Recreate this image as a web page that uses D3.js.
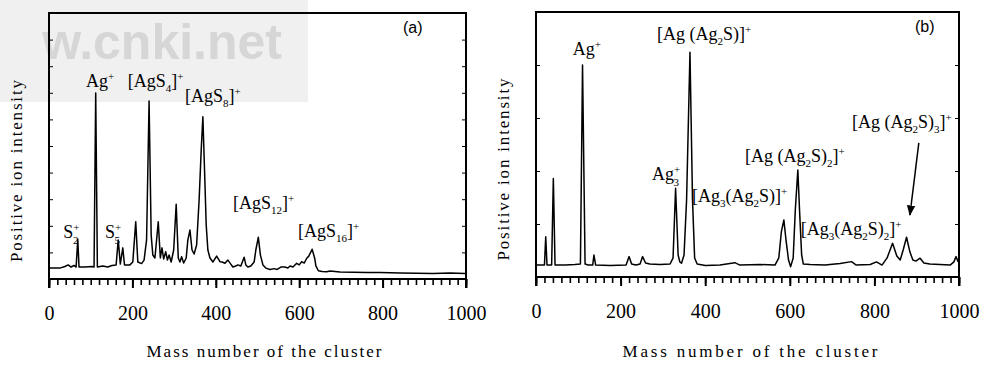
<!DOCTYPE html>
<html>
<head>
<meta charset="utf-8">
<script src="https://cdn.jsdelivr.net/npm/d3@7"></script>
<style>
  body { margin: 0; background: #fff; }
  text { font-family: "Liberation Serif", "Times New Roman", serif; fill: #000; }
</style>
</head>
<body>
<svg id="chart" width="981" height="365"></svg>
<script>
// spectrum (a): mass number vs. relative intensity (%)
const massA = [2, 26, 38, 46, 53, 60, 65, 69, 72, 86, 103, 108, 112, 116, 129, 141, 151, 161, 166, 171,
  177, 181, 194, 201, 208, 213, 222, 228, 234, 240, 245, 249, 254, 262, 267, 271, 275, 280, 284, 288,
  293, 299, 305, 310, 314, 318, 323, 329, 333, 338, 343, 348, 354, 360, 365, 369, 373, 377, 381, 386,
  393, 402, 410, 415, 422, 429, 436, 441, 448, 453, 460, 468, 472, 477, 484, 492, 496, 502, 507, 513,
  520, 530, 540, 547, 556, 566, 573, 578, 585, 594, 600, 606, 612, 618, 623, 631, 637, 640, 646, 655,
  666, 674, 698, 762, 794, 842, 921, 962, 998];
const intA = [4.1, 4.1, 4.7, 5.3, 4.5, 5.1, 4.5, 14.9, 4.5, 4.5, 4.7, 4.5, 69.9, 4.5, 4.9, 4.5, 5.1, 5.3, 14.7, 5.6,
  11.7, 5.3, 5.3, 6.4, 21.5, 6.4, 5.8, 7.1, 14.7, 66.9, 16.5, 9.0, 7.9, 21.5, 7.9, 11.7, 7.5, 10.3, 7.1, 9.0,
  6.4, 10.9, 28.1, 7.9, 6.4, 8.4, 6.0, 7.9, 14.7, 18.4, 10.9, 9.4, 12.8, 29.7, 48.5, 61.0, 41.0, 20.3, 10.9, 7.9,
  6.4, 8.6, 6.5, 6.4, 5.9, 7.1, 5.6, 4.5, 4.9, 5.3, 4.9, 8.2, 5.3, 4.5, 4.9, 6.4, 10.9, 15.7, 9.0, 5.3,
  4.1, 3.6, 3.9, 3.6, 4.5, 4.5, 4.1, 4.9, 4.5, 5.9, 5.3, 6.5, 6.0, 7.8, 8.6, 11.2, 7.9, 4.9, 3.1, 2.8,
  2.7, 3.0, 2.6, 2.4, 2.4, 2.3, 2.1, 2.3, 2.1];

// spectrum (b)
const massB = [2, 17, 20, 23, 26, 37, 41, 45, 69, 92, 105, 110, 116, 123, 134, 137, 141, 175, 213, 220,
  226, 236, 246, 252, 259, 269, 293, 317, 324, 330, 336, 340, 344, 350, 356, 364, 370, 375, 381, 400,
  435, 470, 482, 530, 565, 574, 580, 586, 591, 597, 602, 608, 613, 619, 623, 628, 632, 648, 683, 719,
  746, 757, 790, 805, 818, 830, 843, 853, 861, 868, 876, 884, 891, 898, 908, 917, 931, 955, 979, 988,
  993, 998];
const intB = [4.5, 4.5, 4.5, 15.2, 4.5, 4.5, 37.2, 4.5, 4.5, 4.7, 4.9, 80.0, 4.9, 4.5, 4.5, 8.3, 4.5, 4.3, 4.5, 7.7,
  4.9, 4.5, 4.9, 7.7, 5.3, 4.9, 4.7, 4.9, 7.2, 33.5, 8.3, 5.7, 5.2, 8.3, 29.1, 84.8, 29.1, 7.2, 4.9, 4.3,
  4.5, 5.4, 4.5, 4.7, 4.5, 7.2, 17.0, 21.5, 14.0, 6.4, 3.9, 7.2, 25.3, 40.4, 25.3, 8.3, 4.9, 4.7, 4.5, 5.1,
  5.8, 4.5, 4.7, 5.7, 4.5, 7.2, 12.7, 7.9, 6.4, 10.2, 15.0, 9.4, 6.4, 6.0, 7.1, 5.3, 4.9, 4.7, 4.5, 5.7,
  7.7, 5.7];

const majorTicks = [0, 200, 400, 600, 800, 1000];
const minorTicks = d3.range(0, 1001, 20);

// peak labels: position in data units, text pieces (_ sub, ^ sup, ~ sub stacked under sup)
const labelsA = [
  { m: 89, v: 72.2, parts: ["Ag", "^+"] },
  { m: 189, v: 72.2, parts: ["[AgS", "_4", "]", "^+"] },
  { m: 326, v: 66.5, parts: ["[AgS", "_8", "]", "^+"] },
  { m: 34, v: 15.4, parts: ["S", "^+", "~2"] },
  { m: 134, v: 15.4, parts: ["S", "^+", "~5"] },
  { m: 441, v: 26.3, parts: ["[AgS", "_12", "]", "^+"] },
  { m: 597, v: 15.8, parts: ["[AgS", "_16", "]", "^+"] }
];
const labelsB = [
  { m: 87, v: 83.8, parts: ["Ag", "^+"] },
  { m: 286, v: 89.4, parts: ["[Ag (Ag", "_2", "S)]", "^+"] },
  { m: 274, v: 36.6, parts: ["Ag", "^+", "~3"] },
  { m: 369, v: 28.3, parts: ["[Ag", "_3", "(Ag", "_2", "S)]", "^+"] },
  { m: 494, v: 43.4, parts: ["[Ag (Ag", "_2", "S)", "_2", "]", "^+"] },
  { m: 626, v: 15.8, parts: ["[Ag", "_3", "(Ag", "_2", "S)", "_2", "]", "^+"] },
  { m: 747, v: 56.2, parts: ["[Ag (Ag", "_2", "S)", "_3", "]", "^+"] }
];
const arrowB = [[905, 50.6], [884, 23.4]];

const svg = d3.select("#chart");

// cnki watermark of the scanned source
svg.append("rect").attr("x", 0).attr("y", 0).attr("width", 308).attr("height", 102).attr("fill", "#f0f0f0");
svg.append("text").attr("x", 282).attr("y", 59).attr("text-anchor", "end")
  .style("font-family", "'Liberation Sans', Arial, sans-serif").style("font-weight", "bold")
  .style("font-size", "50px").style("fill", "#d6d6d6").text("w.cnki.net");

svg.append("defs").append("marker").attr("id", "head")
  .attr("viewBox", "0 0 10 10").attr("refX", 9).attr("refY", 5)
  .attr("markerWidth", 7).attr("markerHeight", 9).attr("orient", "auto")
  .append("path").attr("d", "M0,1 L10,5 L0,9 Z").attr("fill", "#000");

function drawLabel(g, x, y, lab) {
  const t = g.append("text").attr("x", x(lab.m)).attr("y", y(lab.v)).style("font-size", "18px");
  let shift = 0;
  lab.parts.forEach(p => {
    const k = p[0];
    let target = 0, s = p;
    if (k === "_") { target = 5; s = p.slice(1); }
    if (k === "~") { target = 6; s = p.slice(1); }
    if (k === "^") { target = -7; s = p.slice(1); }
    const ts = t.append("tspan").text(s).attr("dy", target - shift);
    if (target !== 0) ts.style("font-size", "11px");
    if (k === "~") ts.attr("dx", -6.5);
    shift = target;
  });
}

function panel(box, mass, inten, labels, tag, yTicks, titleX, titleLen) {
  const x = d3.scaleLinear().domain([0, 1000]).range([box.left, box.right]);
  const y = d3.scaleLinear().domain([0, 100]).range([box.bottom, box.top]);
  const g = svg.append("g");

  // minor and major ticks on the mass axis
  g.append("g").attr("transform", `translate(0,${box.bottom})`)
    .call(d3.axisBottom(x).tickValues(minorTicks).tickSize(6).tickSizeOuter(0).tickFormat(""))
    .call(a => a.select(".domain").remove())
    .selectAll("line").attr("stroke-width", 1.6);
  g.append("g").attr("transform", `translate(0,${box.bottom})`)
    .call(d3.axisBottom(x).tickValues(majorTicks).tickSize(9).tickSizeOuter(0).tickPadding(18)
      .tickFormat(d3.format("d")))
    .call(a => a.select(".domain").remove())
    .call(a => a.selectAll("line").attr("stroke-width", 2))
    .call(a => a.selectAll("text").style("font-size", "20px").attr("font-family", null));

  // small inward ticks on both vertical borders
  g.append("g").attr("transform", `translate(${box.left},0)`)
    .call(d3.axisLeft(y).ticks(yTicks).tickSize(-4).tickFormat(""))
    .call(a => a.select(".domain").remove());
  g.append("g").attr("transform", `translate(${box.right},0)`)
    .call(d3.axisRight(y).ticks(yTicks).tickSize(-4).tickFormat(""))
    .call(a => a.select(".domain").remove());

  // frame
  g.append("path")
    .attr("d", `M${box.left},${box.bottom + 9}V${box.top}H${box.right}V${box.bottom + 9}`)
    .attr("fill", "none").attr("stroke", "#000").attr("stroke-width", 2);
  g.append("line").attr("x1", box.left).attr("x2", box.right)
    .attr("y1", box.bottom).attr("y2", box.bottom).attr("stroke", "#000").attr("stroke-width", 2);

  // spectrum trace
  const pts = mass.map((m, i) => [m, inten[i]]);
  g.append("path").datum(pts)
    .attr("d", d3.line().x(d => x(d[0])).y(d => y(d[1])))
    .attr("fill", "none").attr("stroke", "#000").attr("stroke-width", 1.5).attr("stroke-linejoin", "round");

  labels.forEach(l => drawLabel(g, x, y, l));

  g.append("text").attr("x", x(tag.m)).attr("y", y(tag.v))
    .style("font-family", "'Liberation Sans', Arial, sans-serif").style("font-size", "16px")
    .text(tag.t);

  g.append("text").attr("x", titleX).attr("y", 357).attr("text-anchor", "middle")
    .attr("textLength", titleLen).attr("lengthAdjust", "spacing")
    .style("font-size", "17px").text("Mass number of the cluster");

  const cy = (box.top + box.bottom) / 2 + 25;
  g.append("text").attr("transform", `translate(${box.left - 27},${cy}) rotate(-90)`)
    .attr("text-anchor", "middle").attr("textLength", 182).attr("lengthAdjust", "spacing")
    .style("font-size", "17px").text("Positive ion intensity");
  return { x, y, g };
}

panel({ left: 49, right: 466, top: 13, bottom: 279 }, massA, intA, labelsA,
  { m: 849, v: 92.5, t: "(a)" }, 10, 264, 235);
const pb = panel({ left: 536, right: 959, top: 12, bottom: 277 }, massB, intB, labelsB,
  { m: 896, v: 92.5, t: "(b)" }, 5, 750, 255);

pb.g.append("line")
  .attr("x1", pb.x(arrowB[0][0])).attr("y1", pb.y(arrowB[0][1]))
  .attr("x2", pb.x(arrowB[1][0])).attr("y2", pb.y(arrowB[1][1]))
  .attr("stroke", "#000").attr("stroke-width", 1.5).attr("marker-end", "url(#head)");
</script>
</body>
</html>
